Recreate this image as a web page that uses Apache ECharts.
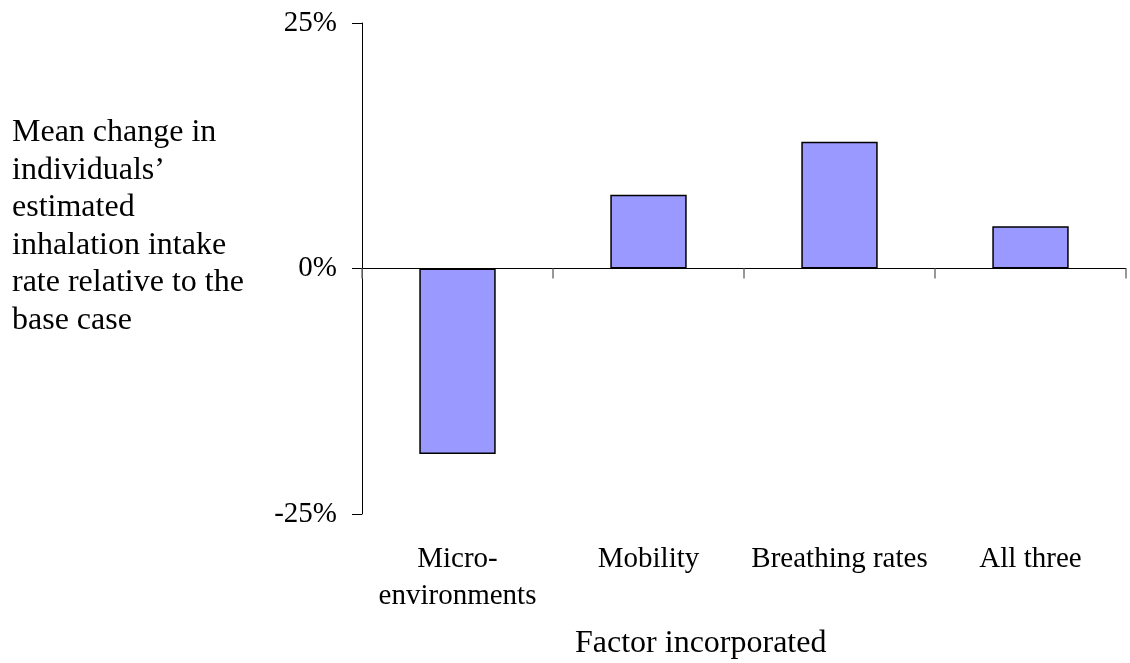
<!DOCTYPE html>
<html>
<head>
<meta charset="utf-8">
<script src="https://cdn.jsdelivr.net/npm/echarts@6/dist/echarts.min.js"></script>
<style>
html,body{margin:0;padding:0;background:#fff;}
#chart{width:1130px;height:663px;}
</style>
</head>
<body>
<div id="chart"></div>
<script>
const categories = ['Micro-\nenvironments', 'Mobility', 'Breathing rates', 'All three'];
const meanChange = [-18.9, 7.5, 12.9, 4.3];
const yTicks = { min: -25, max: 25, interval: 25 };
const yTitle = 'Mean change in\nindividuals\u2019\nestimated\ninhalation intake\nrate relative to the\nbase case';
const xTitle = 'Factor incorporated';

const FONT = '"Liberation Serif", "Times New Roman", serif';
const chart = echarts.init(document.getElementById('chart'), null, { renderer: 'canvas' });
chart.setOption({
  backgroundColor: '#ffffff',
  animation: false,
  title: [
    {
      text: yTitle,
      left: 7,
      top: 109,
      textStyle: { fontFamily: FONT, fontSize: 32, fontWeight: 'normal', color: '#000', lineHeight: 37.5 }
    },
    {
      text: xTitle,
      left: 570,
      top: 620,
      textStyle: { fontFamily: FONT, fontSize: 32, fontWeight: 'normal', color: '#000', lineHeight: 37.5 }
    }
  ],
  grid: { left: 362, right: 4, top: 23, bottom: 149, containLabel: false },
  xAxis: [
    {
      type: 'category',
      data: categories,
      boundaryGap: true,
      axisLine: { show: true, onZero: true, lineStyle: { color: '#000', width: 1 } },
      axisTick: { show: true, inside: false, length: 10, alignWithLabel: false, lineStyle: { color: '#777', width: 1.5 } },
      axisLabel: { show: false },
      splitLine: { show: false }
    },
    {
      type: 'category',
      data: categories,
      position: 'bottom',
      boundaryGap: true,
      axisLine: { show: false, onZero: false },
      axisTick: { show: false },
      axisLabel: { show: true, interval: 0, margin: 27, fontFamily: FONT, fontSize: 29, color: '#000', lineHeight: 37 },
      splitLine: { show: false }
    }
  ],
  yAxis: {
    type: 'value',
    min: yTicks.min,
    max: yTicks.max,
    interval: yTicks.interval,
    axisLine: { show: true, lineStyle: { color: '#000', width: 1 } },
    axisTick: { show: true, inside: false, length: 10, lineStyle: { color: '#000', width: 1 } },
    axisLabel: { formatter: '{value}%', margin: 25, fontFamily: FONT, fontSize: 29, color: '#000' },
    splitLine: { show: false }
  },
  series: [
    {
      type: 'bar',
      xAxisIndex: 0,
      data: meanChange,
      barWidth: '40%',
      itemStyle: { color: '#9999FF', borderColor: '#000', borderWidth: 1.5 }
    }
  ]
});
</script>
</body>
</html>
